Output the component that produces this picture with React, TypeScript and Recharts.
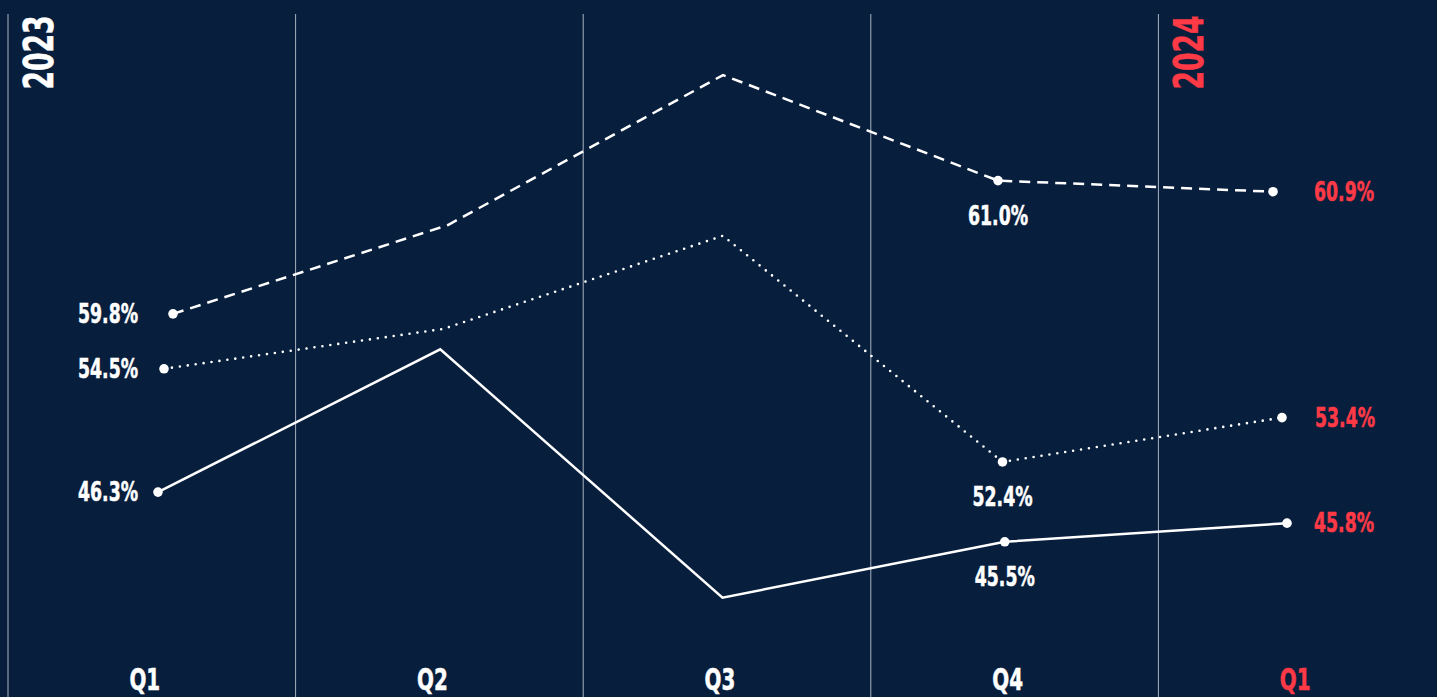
import { LabelList, Line, LineChart, ReferenceLine, XAxis, YAxis } from 'recharts';

const quarters = ['Q1', 'Q2', 'Q3', 'Q4', 'Q1'];
const dashedValues = [59.8, 60.6, 61.95, 61.0, 60.9];
const dottedValues = [54.5, 55.4, 57.5, 52.4, 53.4];
const solidValues = [46.3, 48.6, 44.6, 45.5, 45.8];

// the year printed beside the rule that opens it
const yearLabels: Record<number, string> = { 0: '2023', 4: '2024' };
const labelledPoints = [0, 3, 4];

const BG = '#071e3d';
const RED = '#fd3a46';
const RULE = '#aab2bf';
// no narrow face installed, so the condensed DejaVu is squeezed with textLength
const FONT = "'Liberation Sans Narrow', 'DejaVu Sans Condensed', sans-serif";
const SQUEEZE = 0.74;

const data = quarters.map((quarter, i) => ({
  quarter,
  dashed: dashedValues[i],
  dotted: dottedValues[i],
  solid: solidValues[i],
}));

const lastIndex = quarters.length - 1;

// rough advance widths of DejaVu Sans Condensed Bold, in em
function approxWidth(text: string, size: number) {
  let w = 0;
  for (const ch of text) {
    if (ch === '.') w += 0.34;
    else if (ch === '%') w += 0.9;
    else if (ch === 'Q') w += 0.76;
    else w += 0.626;
  }
  return w * size * SQUEEZE;
}

function Narrow({ children, size, fill, ...rest }: any) {
  return (
    <text
      {...rest}
      fill={fill}
      stroke={fill}
      strokeWidth={0.5}
      fontFamily={FONT}
      fontWeight={700}
      fontSize={size}
      textLength={approxWidth(String(children), size)}
      lengthAdjust="spacingAndGlyphs"
    >
      {children}
    </text>
  );
}

function renderDot(props: any) {
  const { cx, cy, index } = props;
  if (!labelledPoints.includes(index)) return <g key={`dot-${index}`} />;
  return <circle key={`dot-${index}`} cx={cx} cy={cy} r={4.8} fill="#fff" />;
}

// first point: label to the left, Q4: below, last point: to the right in red
function makeLabel(leftGap: number, rightGap: number) {
  return (props: any) => {
    const { x, y, index, value } = props;
    if (!labelledPoints.includes(index)) return null;
    const text = `${Number(value).toFixed(1)}%`;
    if (index === 0) {
      return <Narrow x={x - leftGap} y={y + 9} textAnchor="end" fill="#fff" size={26}>{text}</Narrow>;
    }
    if (index === lastIndex) {
      return <Narrow x={x + rightGap} y={y + 9} textAnchor="start" fill={RED} size={26}>{text}</Narrow>;
    }
    return <Narrow x={x} y={y + 44} textAnchor="middle" fill="#fff" size={26}>{text}</Narrow>;
  };
}

function QuarterLabel({ viewBox, value, color }: any) {
  return (
    <Narrow x={viewBox.x - 7} y={viewBox.y + viewBox.height - 7} textAnchor="middle" fill={color} size={30}>
      {value}
    </Narrow>
  );
}

function YearLabel({ viewBox, value, color }: any) {
  return (
    <g transform={`translate(${viewBox.x + 45}, ${viewBox.y + 38.5}) rotate(-90)`}>
      <Narrow x={0} y={0} textAnchor="middle" fill={color} size={40}>{value}</Narrow>
    </g>
  );
}

export default function App() {
  return (
    <div style={{ position: 'fixed', left: 0, top: 0, width: 1437, height: 697, overflow: 'hidden', background: BG }}>
      <LineChart width={1446} height={697} data={data} margin={{ top: 14, right: 0, bottom: 0, left: 8 }}>
        {/* one band per quarter: rules on band starts, quarter names at band middles */}
        <XAxis xAxisId="bands" type="category" scale="band" hide />
        <XAxis xAxisId="dashedX" hide padding={{ left: 165, right: 173 }} />
        <XAxis xAxisId="dottedX" hide padding={{ left: 156, right: 164 }} />
        <XAxis xAxisId="solidX" hide padding={{ left: 150, right: 159 }} />

        <YAxis yAxisId="dashedY" hide domain={[56.35, 62.5]} allowDataOverflow />
        <YAxis yAxisId="dottedY" hide domain={[47.1, 62.5]} allowDataOverflow />
        <YAxis yAxisId="solidY" hide domain={[43, 54]} allowDataOverflow />

        {quarters.map((_, i) => (
          <ReferenceLine
            key={`rule-${i}`}
            xAxisId="bands"
            yAxisId="solidY"
            x={i}
            position="start"
            stroke={RULE}
            strokeWidth={1}
            label={
              yearLabels[i]
                ? <YearLabel value={yearLabels[i]} color={i === 0 ? '#fff' : RED} />
                : undefined
            }
          />
        ))}
        {quarters.map((q, i) => (
          <ReferenceLine
            key={`quarter-${i}`}
            xAxisId="bands"
            yAxisId="solidY"
            x={i}
            position="middle"
            stroke="none"
            label={<QuarterLabel value={q} color={i === lastIndex ? RED : '#fff'} />}
          />
        ))}

        <Line
          xAxisId="dashedX"
          yAxisId="dashedY"
          dataKey="dashed"
          stroke="#fff"
          strokeWidth={2.5}
          strokeDasharray="11 7"
          dot={renderDot}
          activeDot={false}
          isAnimationActive={false}
        >
          <LabelList dataKey="dashed" content={makeLabel(35, 41)} />
        </Line>
        <Line
          xAxisId="dottedX"
          yAxisId="dottedY"
          dataKey="dotted"
          stroke="#fff"
          strokeWidth={2.6}
          strokeDasharray="0 8"
          strokeLinecap="round"
          dot={renderDot}
          activeDot={false}
          isAnimationActive={false}
        >
          <LabelList dataKey="dotted" content={makeLabel(26, 33)} />
        </Line>
        <Line
          xAxisId="solidX"
          yAxisId="solidY"
          dataKey="solid"
          stroke="#fff"
          strokeWidth={2.5}
          dot={renderDot}
          activeDot={false}
          isAnimationActive={false}
        >
          <LabelList dataKey="solid" content={makeLabel(20, 27)} />
        </Line>
      </LineChart>
    </div>
  );
}
